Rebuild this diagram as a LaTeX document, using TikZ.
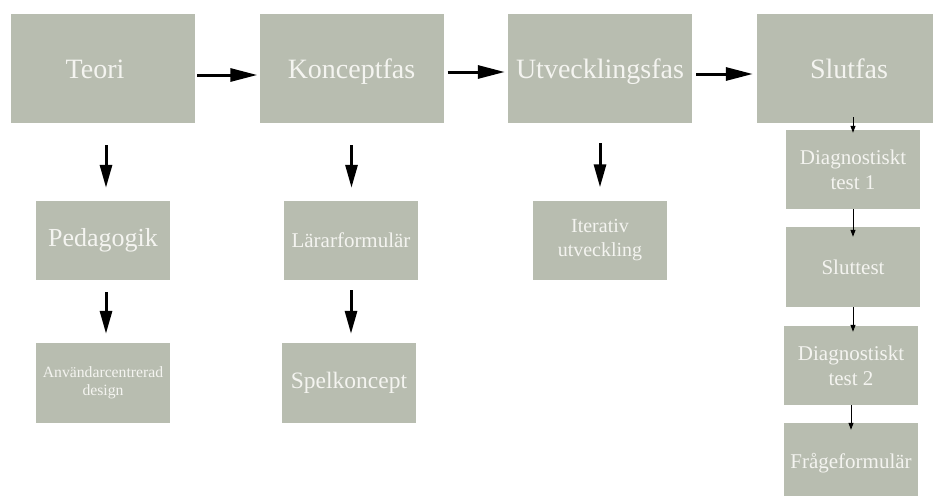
\documentclass[tikz,border=0pt]{standalone}
\usepackage{fontspec}
\setmainfont{Liberation Serif}
\usetikzlibrary{arrows.meta}

\definecolor{boxgray}{HTML}{B8BDB0}
\definecolor{boxtext}{HTML}{F4F4F0}

\begin{document}
\begin{tikzpicture}
	[x = 1pt, y = -1pt,
	box/.style={fill=boxgray, text=boxtext, inner sep=0pt},
	fas/.style={box, minimum width=184pt, minimum height=109pt, font=\fontsize{28}{32}\selectfont, text height=20pt, text depth=0pt},
	del/.style={box, minimum width=134pt, minimum height=79pt, font=\fontsize{21}{25}\selectfont, align=center},
	hpil/.style={line width=3pt, -{Triangle[length=27pt, width=13pt]}},
	vpil/.style={line width=3pt, -{Triangle[length=23pt, width=12pt]}},
	spil/.style={line width=1pt, -{Triangle[length=7pt, width=5pt]}}]
	
	% Fix the page
	\useasboundingbox (0, 0) rectangle (933, 495);
	\clip (0, 0) rectangle (933, 495);
	
	% Draw phases
	\node[fas] (teori) at (103, 68.5) {Teori\hspace*{16pt}};
	\node[fas] (koncept) at (351.5, 68.5) {Konceptfas};
	\node[fas] (utveckling) at (600, 68.5) {Utvecklingsfas};
	\node[fas] (slutfas) at (849, 68.5) {Slutfas};
	
	% Draw theory column
	\node[del, font=\fontsize{26}{30}\selectfont] (pedagogik) at (103, 240.5) {Pedagogik};
	\node[del, minimum height=80pt, font=\fontsize{15.7}{18}\selectfont] (anvandar) at (103, 383) {Användarcentrerad\\design};
	
	% Draw concept column
	\node[del] (larar) at (351, 240.5) {Lärarformulär};
	\node[del, minimum height=80pt, font=\fontsize{23.5}{27}\selectfont] (spel) at (349, 383) {Spelkoncept};
	
	% Draw development column
	\node[del, font=\fontsize{20}{24}\selectfont] (iterativ) at (600, 240) {Iterativ\\utveckling};
	
	% Draw final column
	\node[del] (diag1) at (853, 169.5) {Diagnostiskt\\test 1};
	\node[del, minimum height=80pt] (sluttest) at (853, 267) {Sluttest};
	\node[del] (diag2) at (851, 365.5) {Diagnostiskt\\test 2};
	\node[del, minimum height=80pt] (fragor) at (851, 463) {Frågeformulär};
	
	% Draw arrows between phases
	\draw[hpil, shorten <=2pt, shorten >=2pt] ([yshift=-6.5pt]teori.east) -- ([yshift=-6.5pt]koncept.west);
	\draw[hpil, shorten <=4pt, shorten >=3pt] ([yshift=-3.5pt]koncept.east) -- ([yshift=-3.5pt]utveckling.west);
	\draw[hpil, shorten <=4pt, shorten >=4pt] ([yshift=-5.5pt]utveckling.east) -- ([yshift=-5.5pt]slutfas.west);
	
	% Draw arrows down
	\draw[vpil, shorten <=22pt, shorten >=13pt] ([xshift=3pt]teori.south) -- ([xshift=3pt]pedagogik.north);
	\draw[vpil, shorten <=12pt, shorten >=9pt] ([xshift=3pt]pedagogik.south) -- ([xshift=3pt]anvandar.north);
	\draw[vpil, shorten <=22pt, shorten >=13pt] (koncept.south) -- (koncept.south |- larar.north);
	\draw[vpil, shorten <=10pt, shorten >=9pt] (larar.south) -- (larar.south |- spel.north);
	\draw[vpil, shorten <=20pt, shorten >=13pt] (utveckling.south) -- (iterativ.north);
	
	% Draw final steps
	\draw[spil, shorten <=-6pt, shorten >=-3pt] (slutfas.south -| diag1.north) -- (diag1.north);
	\draw[spil, shorten >=-10pt] (diag1.south) -- (sluttest.north);
	\draw[spil, shorten >=-6pt] (sluttest.south) -- (sluttest.south |- diag2.north);
	\draw[spil, shorten >=-7pt] (diag2.south) -- (fragor.north);
	
\end{tikzpicture}
\end{document}
